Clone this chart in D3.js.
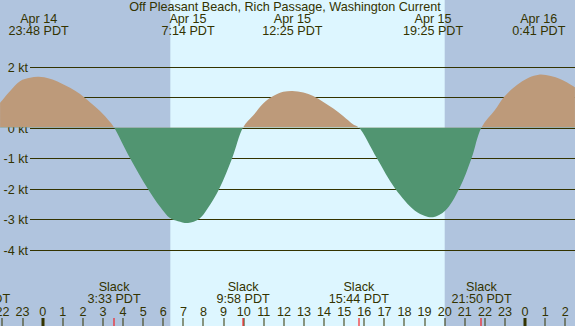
<!DOCTYPE html>
<html>
<head>
<meta charset="utf-8">
<script src="https://cdn.jsdelivr.net/npm/d3@7"></script>
<style>
  body { margin: 0; background: #b0c4de; }
  svg { display: block; font-family: "Liberation Sans", Arial, sans-serif; }
  text { fill: #333300; font-size: 12.6px; }
</style>
</head>
<body>
<div id="wrapper"></div>
<script>
// hours are counted from Apr 15 00:00 PDT
const title = "Off Pleasant Beach, Rich Passage, Washington Current"

// current readings (kt)
const readHours = [
  -2.12, -1.63, -1.13, -0.63, -0.2, 0.36, 0.86, 1.36, 1.86, 2.35, 2.85, 3.35, 3.55,
  4.34, 5.22, 5.84, 6.33, 6.73, 7.23, 7.78, 8.22, 8.79, 9.43, 9.97,
  10.48, 10.97, 11.47, 11.97, 12.42, 12.97, 13.46, 13.96, 14.46, 14.96, 15.45, 15.73,
  16.62, 17.53, 18.52, 19.02, 19.42, 20.02, 20.73, 21.34, 21.83,
  22.5, 22.95, 23.75, 24.68, 25.74, 26.48
]
const readSpeeds = [
  0.81, 1.19, 1.52, 1.63, 1.66, 1.6, 1.47, 1.3, 1.1, 0.83, 0.54, 0.18, 0,
  -1, -2, -2.6, -2.97, -3.07, -3.13, -3, -2.64, -2, -1, 0,
  0.4, 0.79, 1.03, 1.17, 1.2, 1.15, 1.03, 0.84, 0.62, 0.37, 0.1, 0,
  -1, -2, -2.73, -2.9, -2.94, -2.73, -2, -1, 0,
  0.57, 1, 1.47, 1.73, 1.59, 1.32
]

// max current events
const maxHours = [-0.2, 7.23, 12.42, 19.42, 24.68]
const maxDates = ["Apr 14", "Apr 15", "Apr 15", "Apr 15", "Apr 16"]
const maxTimes = ["23:48 PDT", "7:14 PDT", "12:25 PDT", "19:25 PDT", "0:41 PDT"]

// slack events
const slackHours = [-3.12, 3.55, 9.97, 15.73, 21.83]
const slackTimes = ["20:53 PDT", "3:33 PDT", "9:58 PDT", "15:44 PDT", "21:50 PDT"]

const speedTicks = [2, 1, 0, -1, -2, -3, -4]
const daylight = [6.35, 20.0]

const width = 575
const height = 326

const x = d3.scaleLinear().domain([-2.124, 26.483]).range([0, width])
const y = d3.scaleLinear().domain([2, -4]).range([66.5, 249.5])

const svg = d3.select("#wrapper")
  .append("svg")
    .attr("width", width)
    .attr("height", height)

svg.append("rect")
    .attr("width", width)
    .attr("height", height)
    .attr("fill", "#b0c4de")

svg.append("rect")
    .attr("x", x(daylight[0]))
    .attr("width", x(daylight[1]) - x(daylight[0]))
    .attr("height", height)
    .attr("fill", "#ddf6ff")

// grid
svg.selectAll(".grid")
  .data(speedTicks)
  .enter().append("line")
    .attr("x1", 30)
    .attr("x2", width)
    .attr("y1", d => Math.round(y(d)) + 0.5)
    .attr("y2", d => Math.round(y(d)) + 0.5)
    .attr("stroke", "#333300")

svg.selectAll(".ylabel")
  .data(speedTicks)
  .enter().append("text")
    .attr("x", 28)
    .attr("y", d => Math.round(y(d)) + 5)
    .attr("text-anchor", "end")
    .text(d => `${d} kt`)

// current area
const points = readHours.map((h, i) => [h, readSpeeds[i]])
const area = d3.area()
    .x(d => x(d[0]))
    .y0(y(0))
    .y1(d => y(d[1]))
    .curve(d3.curveCatmullRom.alpha(0.5))

const defs = svg.append("defs")
defs.append("clipPath").attr("id", "flood")
  .append("rect").attr("width", width).attr("height", y(0))
defs.append("clipPath").attr("id", "ebb")
  .append("rect").attr("y", y(0)).attr("width", width).attr("height", height)

svg.append("path")
    .attr("d", area(points))
    .attr("fill", "#bd9a7a")
    .attr("clip-path", "url(#flood)")

svg.append("path")
    .attr("d", area(points))
    .attr("fill", "#519571")
    .attr("clip-path", "url(#ebb)")

// top labels
svg.append("text")
    .attr("x", 285)
    .attr("y", 11)
    .attr("text-anchor", "middle")
    .text(title)

const maxLabels = svg.selectAll(".max")
  .data(maxHours)
  .enter().append("g")
    .attr("transform", d => `translate(${x(d)},0)`)
maxLabels.append("text")
    .attr("y", 23)
    .attr("text-anchor", "middle")
    .text((d, i) => maxDates[i])
maxLabels.append("text")
    .attr("y", 35)
    .attr("text-anchor", "middle")
    .text((d, i) => maxTimes[i])

// slack labels
const slackLabels = svg.selectAll(".slack")
  .data(slackHours)
  .enter().append("g")
    .attr("transform", d => `translate(${x(d)},0)`)
slackLabels.append("text")
    .attr("y", 291)
    .attr("text-anchor", "middle")
    .text("Slack")
slackLabels.append("text")
    .attr("y", 303)
    .attr("text-anchor", "middle")
    .text((d, i) => slackTimes[i])

// hour axis
const hourTicks = d3.range(-2, 27)
svg.selectAll(".hour")
  .data(hourTicks)
  .enter().append("text")
    .attr("x", d => x(d))
    .attr("y", 316)
    .attr("text-anchor", "middle")
    .text(d => ((d % 24) + 24) % 24)

svg.selectAll(".tick")
  .data(hourTicks)
  .enter().append("rect")
    .attr("x", d => d % 24 == 0 ? Math.round(x(d)) - 1.5 : Math.round(x(d)) - 0.5)
    .attr("y", 318)
    .attr("width", d => d % 24 == 0 ? 3 : 1)
    .attr("height", 8)
    .attr("fill", "#333300")

svg.selectAll(".slacktick")
  .data(slackHours)
  .enter().append("rect")
    .attr("x", d => Math.round(x(d)) - 0.5)
    .attr("y", 318)
    .attr("width", 1)
    .attr("height", 8)
    .attr("fill", "red")
</script>
</body>
</html>
